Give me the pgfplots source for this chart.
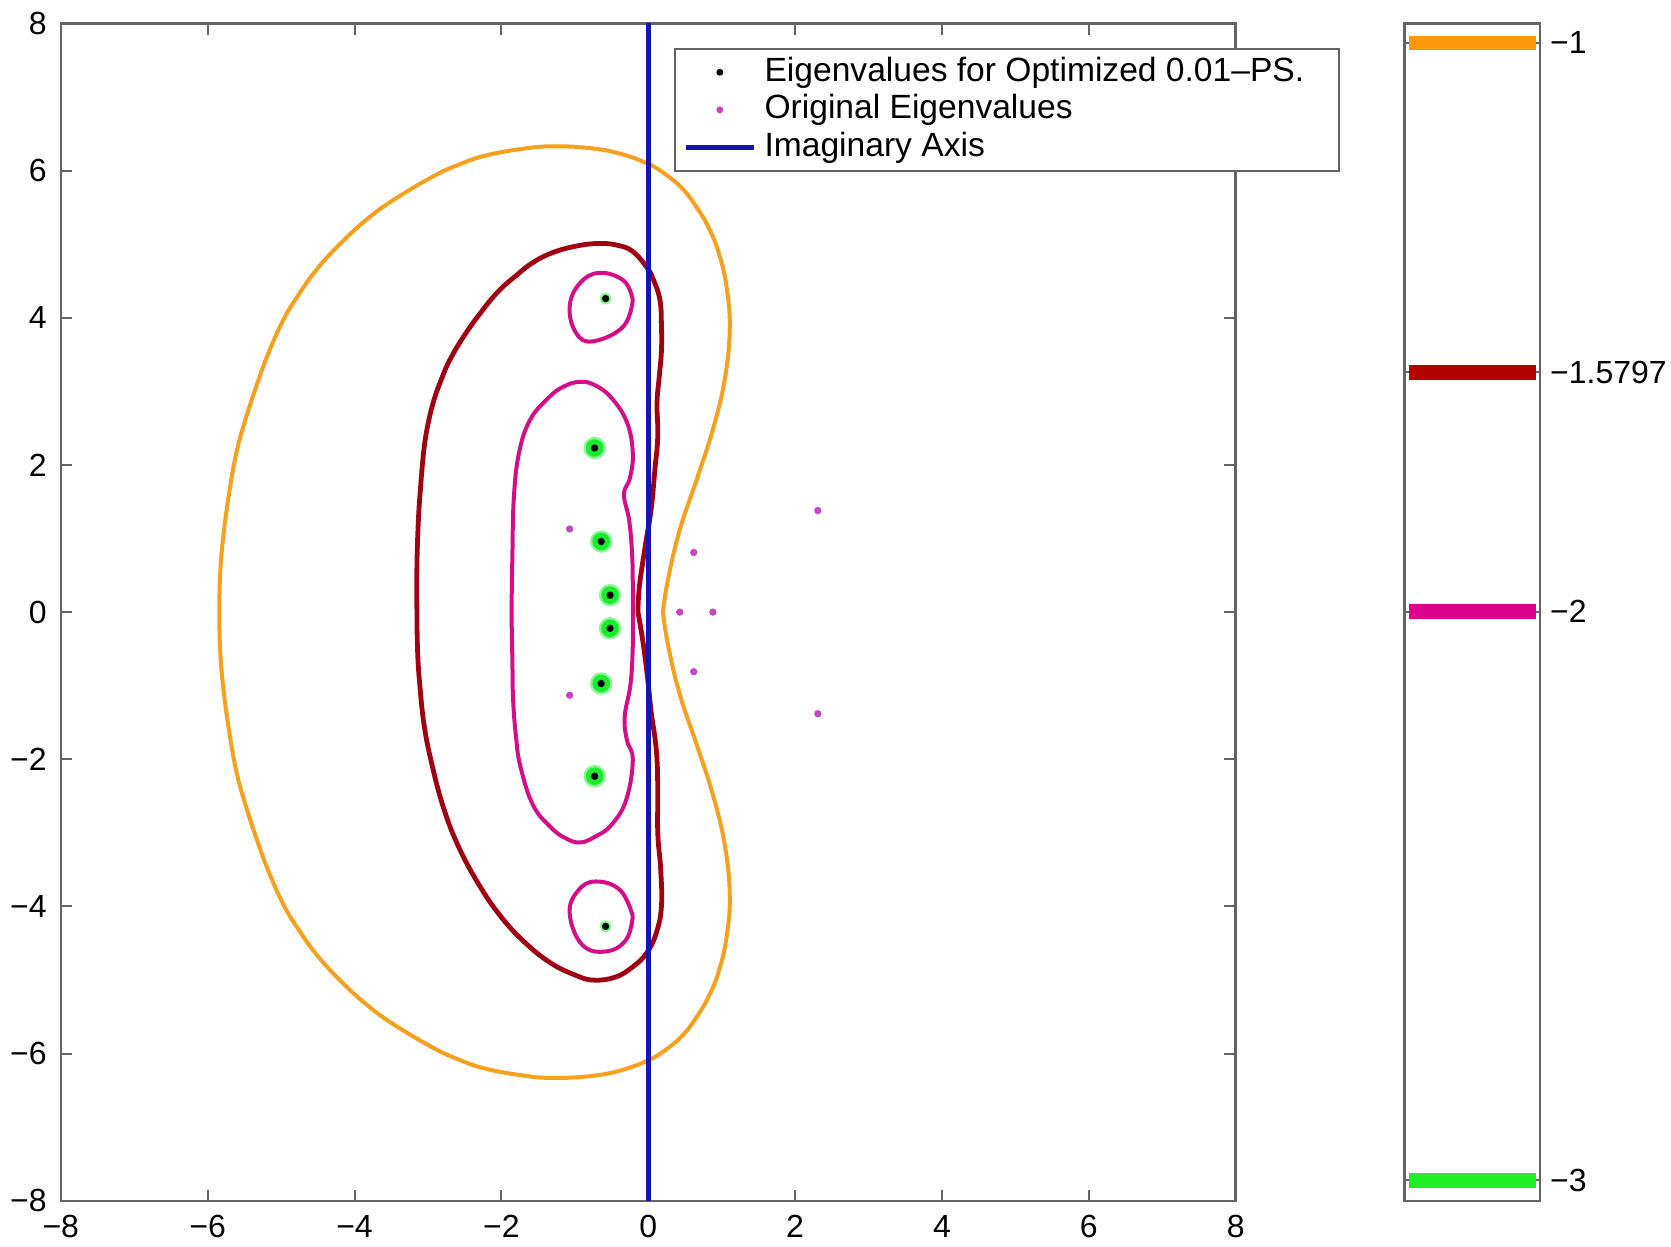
\documentclass[border=0pt]{standalone}
\usepackage{fontspec}
\setmainfont{Liberation Sans}
\usepackage{pgfplots}
\pgfplotsset{compat=1.18}
\definecolor{cOrange}{RGB}{245,160,30}
\definecolor{cDark}{RGB}{160,0,20}
\definecolor{cMag}{RGB}{210,15,135}
\definecolor{cGreen}{RGB}{25,235,45}
\definecolor{cGreenL}{RGB}{140,245,150}
\definecolor{cBlue}{RGB}{20,20,175}
\definecolor{cOrig}{RGB}{195,70,195}
\definecolor{cAx}{RGB}{100,100,100}
\definecolor{bOrange}{RGB}{252,152,10}
\definecolor{bDark}{RGB}{180,0,0}
\definecolor{bMag}{RGB}{220,0,140}
\definecolor{bGreen}{RGB}{30,240,40}
\begin{document}
\begin{tikzpicture}
\useasboundingbox (-15.2pt,-11.5pt) rectangle (402.6pt,300.25pt);
\begin{axis}[
  at={(0,0)}, anchor=south west,
  width=293.75pt, height=294.4pt, scale only axis,
  xmin=-8, xmax=8, ymin=-8, ymax=8,
  xtick={-8,-6,-4,-2,0,2,4,6,8},
  ytick={-8,-6,-4,-2,0,2,4,6,8},
  xticklabels={−8,−6,−4,−2,0,2,4,6,8},
  yticklabels={−8,−6,−4,−2,0,2,4,6,8},
  tick align=inside, major tick length=2.8pt,
  axis line style={cAx, line width=0.6pt},
  tick style={cAx, line width=0.5pt},
  ticklabel style={font=\fontsize{8}{9.6}\selectfont},
  legend style={at={(0.522,0.979)}, anchor=north west, draw=cAx, line width=0.5pt,
    fill=white, font=\fontsize{8.4}{10}\selectfont, cells={anchor=west},
    inner xsep=2pt, inner ysep=0pt, row sep=-2.2pt},
]
% orange contour (level -1)
\addplot[cOrange, line width=1pt, smooth, tension=0.7, forget plot] coordinates {
(0.20,0.00)(0.27,0.45)(0.43,1.12)(0.66,1.80)(0.88,2.48)(1.04,3.15)(1.11,3.83)(1.07,4.40)
(0.97,4.85)(0.84,5.19)(0.68,5.47)(0.47,5.75)(0.22,5.96)(0.00,6.09)(-0.35,6.22)(-0.75,6.30)
(-1.30,6.33)(-1.75,6.29)(-2.23,6.20)(-2.58,6.08)(-2.93,5.92)(-3.47,5.60)(-3.84,5.33)
(-4.20,5.00)(-4.52,4.65)(-4.77,4.30)(-4.97,3.97)(-5.18,3.50)(-5.34,3.06)(-5.49,2.60)
(-5.61,2.16)(-5.71,1.60)(-5.79,1.00)(-5.83,0.50)(-5.84,0.00)
(-5.83,-0.50)(-5.79,-1.00)(-5.71,-1.60)(-5.61,-2.16)(-5.49,-2.60)(-5.34,-3.06)(-5.18,-3.50)
(-4.97,-3.97)(-4.77,-4.30)(-4.52,-4.65)(-4.20,-5.00)(-3.84,-5.33)(-3.47,-5.60)(-2.93,-5.92)
(-2.58,-6.08)(-2.23,-6.20)(-1.75,-6.29)(-1.30,-6.33)(-0.75,-6.30)(-0.35,-6.22)(0.00,-6.09)
(0.22,-5.96)(0.47,-5.75)(0.68,-5.47)(0.84,-5.19)(0.97,-4.85)(1.07,-4.40)(1.11,-3.83)
(1.04,-3.15)(0.88,-2.48)(0.66,-1.80)(0.43,-1.12)(0.27,-0.45)(0.20,0.00)
};
% dark red contour (level -1.5797)
\addplot[cDark, line width=1.2pt, smooth, tension=0.7, forget plot] coordinates {
(-0.14,0.00)(-0.12,0.35)(-0.04,0.90)(0.04,1.40)(0.09,1.93)(0.13,2.39)(0.12,2.84)(0.15,3.20)
(0.18,3.55)(0.18,3.90)(0.16,4.24)(0.07,4.52)(-0.03,4.70)(-0.21,4.90)(-0.40,4.98)(-0.66,5.01)
(-1.00,4.97)(-1.34,4.87)(-1.60,4.73)(-1.79,4.58)(-2.03,4.37)(-2.25,4.11)(-2.49,3.78)
(-2.70,3.43)(-2.83,3.13)(-2.93,2.84)(-3.01,2.50)(-3.06,2.16)(-3.10,1.70)(-3.13,1.25)
(-3.15,0.62)(-3.15,0.00)
(-3.14,-0.55)(-3.11,-1.00)(-3.05,-1.55)(-2.95,-2.05)(-2.80,-2.62)(-2.60,-3.15)(-2.32,-3.68)
(-2.02,-4.12)(-1.70,-4.47)(-1.34,-4.76)(-1.00,-4.93)(-0.75,-5.00)(-0.45,-4.96)(-0.21,-4.82)
(-0.02,-4.63)(0.11,-4.36)(0.18,-4.00)(0.17,-3.50)(0.13,-3.00)(0.13,-2.40)(0.11,-1.87)
(0.04,-1.35)(-0.02,-0.80)(-0.08,-0.35)(-0.14,0.00)
};
% magenta contours (level -2)
\addplot[cMag, line width=1pt, smooth, tension=0.7, forget plot] coordinates {
(-0.21,0.00)(-0.21,0.35)(-0.22,0.80)(-0.26,1.25)(-0.33,1.60)(-0.25,1.82)(-0.21,2.16)
(-0.29,2.58)(-0.50,2.91)(-0.72,3.08)(-0.93,3.13)(-1.16,3.06)(-1.36,2.91)(-1.61,2.61)(-1.76,2.16)
(-1.83,1.55)(-1.85,0.75)(-1.86,0.00)(-1.85,-0.65)(-1.84,-1.19)(-1.80,-1.70)(-1.74,-2.10)
(-1.57,-2.62)(-1.33,-2.92)(-1.13,-3.07)(-0.93,-3.13)(-0.72,-3.05)(-0.50,-2.89)(-0.30,-2.55)
(-0.21,-2.01)(-0.29,-1.74)(-0.32,-1.42)(-0.24,-0.97)(-0.21,-0.45)(-0.21,0.00)
};
\addplot[cMag, line width=1pt, smooth, tension=0.7, forget plot] coordinates {
(-0.21,4.24)(-0.33,4.50)(-0.66,4.61)(-0.93,4.47)(-1.07,4.15)(-0.98,3.79)(-0.75,3.68)
(-0.34,3.88)(-0.21,4.24)
};
\addplot[cMag, line width=1pt, smooth, tension=0.7, forget plot] coordinates {
(-0.21,-4.13)(-0.30,-4.45)(-0.57,-4.61)(-0.90,-4.52)(-1.07,-4.09)(-0.95,-3.78)(-0.71,-3.66)
(-0.38,-3.78)(-0.21,-4.13)
};
% imaginary axis
\addplot[cBlue, line width=1.3pt, forget plot] coordinates {(0,-8)(0,8)};
% green level -3 blobs
\addplot[cGreenL, only marks, mark=*, mark size=2.6pt, mark options={draw=cGreenL, fill=cGreenL}, forget plot] coordinates {
(-0.73,2.23)(-0.64,0.96)(-0.52,0.23)(-0.52,-0.22)(-0.64,-0.97)(-0.73,-2.23)
};
\addplot[cGreen, only marks, mark=*, mark size=2.0pt, mark options={draw=cGreen, fill=cGreen}, forget plot] coordinates {
(-0.73,2.23)(-0.64,0.96)(-0.52,0.23)(-0.52,-0.22)(-0.64,-0.97)(-0.73,-2.23)
};
\addplot[cGreenL, only marks, mark=*, mark size=1.3pt, mark options={draw=cGreenL, fill=cGreenL}, forget plot] coordinates {
(-0.58,4.26)(-0.58,-4.27)
};
% optimized eigenvalues
\addplot[black, only marks, mark=*, mark size=0.7pt, mark options={draw=black, fill=black}, forget plot] coordinates {
(-0.73,2.23)(-0.64,0.96)(-0.52,0.23)(-0.52,-0.22)(-0.64,-0.97)(-0.73,-2.23)(-0.58,4.26)(-0.58,-4.27)
};
% original eigenvalues
\addplot[cOrig, only marks, mark=*, mark size=0.7pt, mark options={draw=cOrig, fill=cOrig}, forget plot] coordinates {
(-1.07,1.13)(-1.07,-1.13)(0.62,0.81)(0.62,-0.81)(0.43,0.00)(0.88,0.00)(2.31,1.38)(2.31,-1.38)
};
\addlegendimage{legend image code/.code={\fill[black] (0.3cm,0) circle (0.6pt);}}
\addlegendentry{Eigenvalues for Optimized 0.01–PS.\rule{4.6pt}{0pt}}
\addlegendimage{legend image code/.code={\fill[cOrig] (0.3cm,0) circle (0.6pt);}}
\addlegendentry{Original Eigenvalues}
\addlegendimage{legend image code/.code={\draw[cBlue, line width=1.3pt] (0,0) -- (0.6cm,0);}}
\addlegendentry{Imaginary Axis}
\end{axis}
\begin{axis}[
  at={(336pt,0)}, anchor=south west,
  width=33.85pt, height=294.4pt, scale only axis,
  xmin=0, xmax=1, ymin=-3.036, ymax=-0.966,
  xtick=\empty,
  ytick={-3,-2,-1.5797,-1},
  yticklabels={−3,−2,−1.5797,−1},
  yticklabel pos=right,
  tick align=inside, major tick length=1.5pt,
  axis line style={cAx, line width=0.6pt},
  tick style={cAx, line width=0.5pt},
  ticklabel style={font=\fontsize{8}{9.6}\selectfont},
  yticklabel style={xshift=-1pt},
]
\addplot[bOrange, line width=3.6pt] coordinates {(0.03,-1)(0.97,-1)};
\addplot[bDark, line width=3.6pt] coordinates {(0.03,-1.5797)(0.97,-1.5797)};
\addplot[bMag, line width=3.6pt] coordinates {(0.03,-2)(0.97,-2)};
\addplot[bGreen, line width=3.6pt] coordinates {(0.03,-3)(0.97,-3)};
\end{axis}
\end{tikzpicture}
\end{document}
